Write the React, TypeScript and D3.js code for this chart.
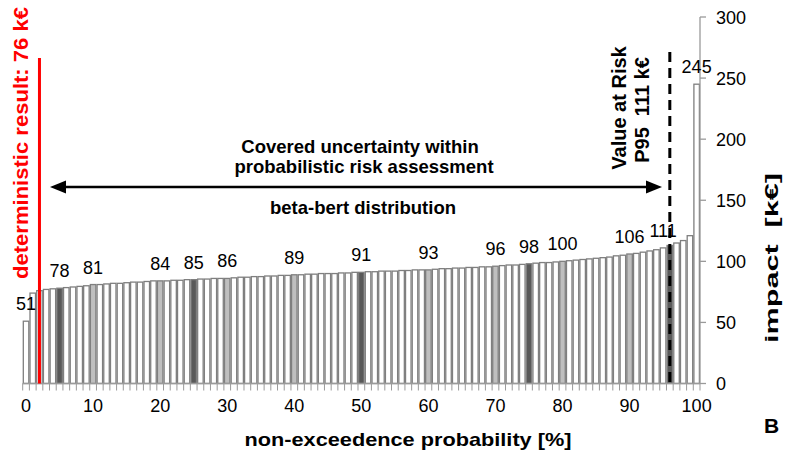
import React from "react";
import * as d3 from "d3";

const categories: number[] = d3.range(0, 101);
const impactValues: number[] = [
  51, 74, 76, 77, 77.5, 78, 78.5, 79, 79.5, 80,
  81, 81, 81.5, 82, 82, 82.5, 83, 83, 83.5, 84,
  84, 84, 84.5, 84.5, 85, 85, 85.5, 85.5, 86, 86,
  86, 86.5, 87, 87, 87.5, 87.5, 88, 88, 88.5, 88.5,
  89, 89, 89.5, 89.5, 90, 90, 90, 90.5, 90.5, 91,
  91, 91.5, 91.5, 92, 92, 92, 92.5, 92.5, 93, 93,
  93, 93.5, 94, 94, 94.5, 94.5, 95, 95, 95.5, 95.5,
  96, 96.5, 97, 97, 97.5, 98, 98.5, 99, 99, 99.5,
  100, 100.5, 101, 101.5, 102, 102.5, 103, 103.5, 104.5, 105,
  106, 106.5, 107.5, 108.5, 109.5, 111, 113, 115, 117, 121,
  245,
];
const labelIndices: number[] = [0, 5, 10, 20, 25, 30, 40, 50, 60, 70, 75, 80, 90, 95, 100];
const darkBars: number[] = [5, 25, 50, 75, 96];
const grayBars: number[] = [10, 20, 30, 40, 60, 70, 80, 90];
const xTickLabels: number[] = [0, 10, 20, 30, 40, 50, 60, 70, 80, 90, 100];
const yTickLabels: number[] = [0, 50, 100, 150, 200, 250, 300];
const deterministicIndex = 2;
const varIndex = 96;

export default function App() {
  const W = 785, H = 457;
  const x = d3.scaleBand<number>().domain(categories).range([22.7, 700]).paddingInner(0.18).paddingOuter(0.09);
  const xb = d3.scaleBand<number>().domain(categories).range([22.7, 700]);
  const y = d3.scaleLinear().domain([0, 300]).range([383.5, 17]);
  const cx = (i: number) => (xb(i) as number) + xb.bandwidth() / 2;
  const axisColor = "#9a9a9a";
  const font = "Liberation Sans, Arial, sans-serif";

  const fillFor = (i: number) =>
    darkBars.includes(i) ? "#595959" : grayBars.includes(i) ? "#bfbfbf" : "#ffffff";

  const boundaries = d3.range(0, 102).map((k) => 22.7 + k * xb.bandwidth());

  return (
    <svg width={W} height={H} style={{ position: "absolute", left: 0, top: 0, background: "#fff" }} fontFamily={font}>
      {/* bars */}
      {categories.map((c, i) => (
        <rect
          key={c}
          x={x(c)}
          y={y(impactValues[i])}
          width={x.bandwidth()}
          height={y(0) - y(impactValues[i])}
          fill={fillFor(i)}
          stroke="#7f7f7f"
          strokeWidth={1.3}
        />
      ))}
      {/* x axis */}
      <line x1={22.7} x2={700} y1={y(0)} y2={y(0)} stroke={axisColor} strokeWidth={1.3} />
      {boundaries.map((bx, k) => (
        <line key={k} x1={bx} x2={bx} y1={y(0)} y2={y(0) + 7} stroke={axisColor} strokeWidth={1} />
      ))}
      {xTickLabels.map((t) => (
        <text key={t} x={cx(t)} y={412} fontSize={18} textAnchor="middle" fill="#000">
          {t}
        </text>
      ))}
      <text x={408} y={446} fontSize={19} fontWeight="bold" textAnchor="middle" textLength={327} lengthAdjust="spacingAndGlyphs">
        non-exceedence probability [%]
      </text>
      {/* right axis */}
      <line x1={700} x2={700} y1={y(300)} y2={y(0)} stroke={axisColor} strokeWidth={1.3} />
      {yTickLabels.map((t) => (
        <g key={t}>
          <line x1={700} x2={706} y1={y(t)} y2={y(t)} stroke={axisColor} strokeWidth={1.3} />
          <text x={716} y={y(t) + 6.5} fontSize={18} fill="#000">
            {t}
          </text>
        </g>
      ))}
      <text
        transform={`translate(778,258) rotate(-90)`}
        fontSize={19}
        fontWeight="bold"
        textAnchor="middle"
        textLength={170}
        lengthAdjust="spacingAndGlyphs"
        style={{ whiteSpace: "pre" }}
      >
        {"impact  [k€]"}
      </text>
      <text x={764} y={433} fontSize={21} fontWeight="bold">B</text>

      {/* bar labels */}
      {labelIndices.map((i) => (
        <text key={i} x={cx(i)} y={y(impactValues[i]) - 11} fontSize={18} textAnchor="middle" fill="#000">
          {Math.round(impactValues[i])}
        </text>
      ))}

      {/* deterministic result */}
      <line x1={cx(deterministicIndex)} x2={cx(deterministicIndex)} y1={58} y2={y(0)} stroke="#ff0000" strokeWidth={3} />
      <text
        transform={`translate(28,143) rotate(-90)`}
        fontSize={20}
        fontWeight="bold"
        fill="#ff0000"
        textAnchor="middle"
        textLength={272}
        lengthAdjust="spacingAndGlyphs"
      >
        deterministic result: 76 k€
      </text>

      {/* value at risk */}
      <line x1={cx(varIndex)} x2={cx(varIndex)} y1={52} y2={y(0)} stroke="#000" strokeWidth={3} strokeDasharray="10,6" />
      <text transform={`translate(626,108) rotate(-90)`} fontSize={20} fontWeight="bold" textAnchor="middle">
        Value at Risk
      </text>
      <text transform={`translate(649,110) rotate(-90)`} fontSize={20} fontWeight="bold" textAnchor="middle" style={{ whiteSpace: "pre" }}>
        {"P95  111 k€"}
      </text>

      {/* double arrow */}
      <line x1={62} x2={650} y1={187} y2={187} stroke="#000" strokeWidth={2.5} />
      <path d="M50,187 L66,180.5 L66,193.5 Z" fill="#000" />
      <path d="M662,187 L646,180.5 L646,193.5 Z" fill="#000" />
      <text x={360} y={153} fontSize={18.5} fontWeight="bold" textAnchor="middle">
        Covered uncertainty within
      </text>
      <text x={364} y={173} fontSize={18.5} fontWeight="bold" textAnchor="middle">
        probabilistic risk assessment
      </text>
      <text x={363} y={214} fontSize={18.5} fontWeight="bold" textAnchor="middle">
        beta-bert distribution
      </text>
    </svg>
  );
}
